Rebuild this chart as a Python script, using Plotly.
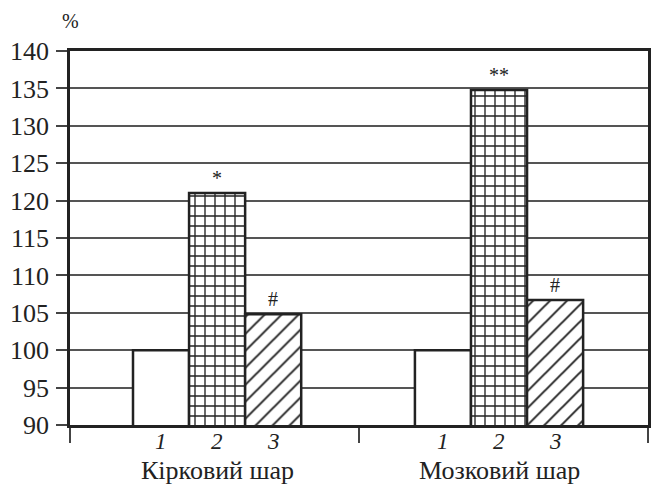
import plotly.graph_objects as go

# ---- data ----
groups = ["Кірковий шар", "Мозковий шар"]
series_names = ["1", "2", "3"]
series_values = [
    [100.0, 100.0],   # 1
    [121.0, 134.8],   # 2
    [104.8, 106.7],   # 3
]
sig_marks = [
    ["", ""],
    ["*", "**"],
    ["#", "#"],
]
y_ticks = list(range(90, 141, 5))
y_label = "%"

# ---- style ----
FONT = "Liberation Serif, Times New Roman, serif"
INK = "#222222"
bar_w = 0.194
group_start = [-0.282, -0.3065]   # left edge of each bar group, relative to category centre
patterns = [
    dict(shape="", fillmode="replace"),
    dict(shape="+", size=10, solidity=0.25, fgcolor=INK, bgcolor="white", fillmode="replace"),
    dict(shape="/", size=12, solidity=0.16, fgcolor=INK, bgcolor="white", fillmode="replace"),
]

fig = go.Figure()
for i, (name, vals) in enumerate(zip(series_names, series_values)):
    offsets = [group_start[g] + i * bar_w for g in range(len(groups))]
    fig.add_trace(go.Bar(
        x=groups, y=vals, name=name,
        width=bar_w, offset=offsets,
        marker=dict(color="white", line=dict(color=INK, width=2.5), pattern=patterns[i]),
        showlegend=False, hoverinfo="skip",
    ))

annotations = []
for i, name in enumerate(series_names):
    for g in range(len(groups)):
        xc = g + group_start[g] + (i + 0.5) * bar_w
        annotations.append(dict(x=xc, y=0, xref="x", yref="paper", text=name,
                                showarrow=False, yanchor="top", yshift=-2,
                                font=dict(family=FONT, size=23, color=INK, style="italic")))
        if sig_marks[i][g]:
            annotations.append(dict(x=xc, y=series_values[i][g], xref="x", yref="y",
                                    text=sig_marks[i][g], showarrow=False,
                                    yanchor="bottom", yshift=2,
                                    font=dict(family=FONT, size=20, color=INK)))
for g, grp in enumerate(groups):
    xc = g + group_start[g] + 1.5 * bar_w
    annotations.append(dict(x=xc, y=0, xref="x", yref="paper", text=grp,
                            showarrow=False, yanchor="top", yshift=-29,
                            font=dict(family=FONT, size=26, color=INK)))
annotations.append(dict(x=(71 - 70) / 581, y=1 + (51 - 21) / 374, xref="paper", yref="paper",
                        text=y_label, showarrow=False, xanchor="center", yanchor="middle",
                        font=dict(family=FONT, size=20, color=INK)))

fig.update_layout(
    width=654, height=490,
    margin=dict(l=70, r=3, t=51, b=65),
    paper_bgcolor="white", plot_bgcolor="white",
    barmode="overlay",
    font=dict(family=FONT, color=INK),
    annotations=annotations,
)
fig.update_xaxes(
    type="category", categoryorder="array", categoryarray=groups,
    range=[-0.5, 1.5], showticklabels=False,
    tickson="boundaries", ticks="outside", ticklen=15, tickwidth=2, tickcolor="#444",
    showline=True, linewidth=2.5, linecolor=INK, mirror=True, showgrid=False,
)
fig.update_yaxes(
    range=[90, 140], tickvals=y_ticks, ticks="outside", ticklen=11, tickwidth=1.5, tickcolor="#444",
    showline=True, linewidth=2.5, linecolor=INK, mirror=True,
    showgrid=True, gridcolor="#555555", gridwidth=1.5, zeroline=False,
    tickfont=dict(family=FONT, size=26, color=INK), ticklabelstandoff=2,
)
fig.write_html("out.html", config={"displayModeBar": False},
               post_script="document.body.style.margin='0';document.body.style.overflow='hidden';")
